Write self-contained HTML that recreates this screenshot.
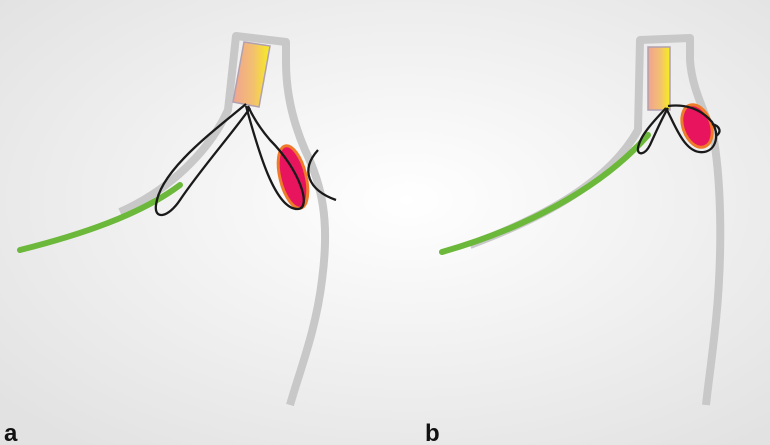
<!DOCTYPE html>
<html><head><meta charset="utf-8"><style>
html,body{margin:0;padding:0;width:770px;height:445px;overflow:hidden;background:#fff}
svg{display:block}
text{font-family:"Liberation Sans",sans-serif;font-weight:bold;font-size:24px;fill:#111}
</style></head><body>
<svg width="770" height="445" viewBox="0 0 770 445">
<defs>
<radialGradient id="bg" cx="0.53" cy="0.45" r="0.7">
<stop offset="0" stop-color="#ffffff"/><stop offset="1" stop-color="#e2e2e2"/></radialGradient>
<linearGradient id="tube" x1="0" y1="0" x2="1" y2="0">
<stop offset="0" stop-color="#f0a392"/><stop offset="0.55" stop-color="#f3c070"/><stop offset="1" stop-color="#f7ee1c"/></linearGradient>
</defs>
<rect x="0" y="0" width="770" height="445" fill="url(#bg)"/>

<g>
<path d="M120,212 C170,190 210,150 228,110 L236,36 L286,42 L286,62 C286,90 292,120 305,150 C322,185 330,220 322,280 C316,330 300,370 290,405" fill="none" stroke="#c8c8c8" stroke-width="8" stroke-linejoin="round"/>
<path d="M20,250 C80,235 140,215 180,185" fill="none" stroke="#6cb83a" stroke-width="6" stroke-linecap="round"/>
<polygon points="244,42 270,46 259,107 233,102" fill="url(#tube)" stroke="#b0a0b0" stroke-width="1.5"/>
<ellipse cx="293" cy="177" rx="13" ry="32" transform="rotate(-14 293 177)" fill="#e8145e" stroke="#ef7a2a" stroke-width="3"/>
<g fill="none" stroke="#1a1a1a" stroke-width="2.3">
<path d="M246,104 C215,130 160,170 156,205 C154,220 168,218 180,200 C200,170 235,130 250,108"/>
<path d="M246,106 C258,150 275,210 298,209 C312,208 300,170 270,140 C258,126 252,115 248,106"/>
<path d="M318,150 C300,170 308,190 336,200"/>
</g>
</g>

<g>
<path d="M470,245 C550,215 610,180 638,130 L640,40 L690,38 L690,60 C692,90 705,110 714,140 C722,190 722,260 716,320 C712,360 708,385 706,405" fill="none" stroke="#c8c8c8" stroke-width="8" stroke-linejoin="round"/>
<path d="M442,252 C520,230 600,190 648,135" fill="none" stroke="#6cb83a" stroke-width="6" stroke-linecap="round"/>
<rect x="648" y="47" width="22" height="63" fill="url(#tube)" stroke="#b0a0b0" stroke-width="1.5"/>
<ellipse cx="697" cy="126" rx="14" ry="22" transform="rotate(-20 697 126)" fill="#e8145e" stroke="#ef7a2a" stroke-width="3"/>
<g fill="none" stroke="#1a1a1a" stroke-width="2.3">
<path d="M666,108 C655,120 640,135 638,148 C637,156 645,155 650,145 C656,132 662,118 668,108"/>
<path d="M666,108 C675,125 685,155 704,152 C716,150 720,135 712,122 C700,108 684,104 668,106"/>
<path d="M712,124 C720,126 722,132 716,136"/>
</g>
</g>

<text x="4" y="441">a</text>
<text x="425" y="441">b</text>
</svg>
</body></html>
